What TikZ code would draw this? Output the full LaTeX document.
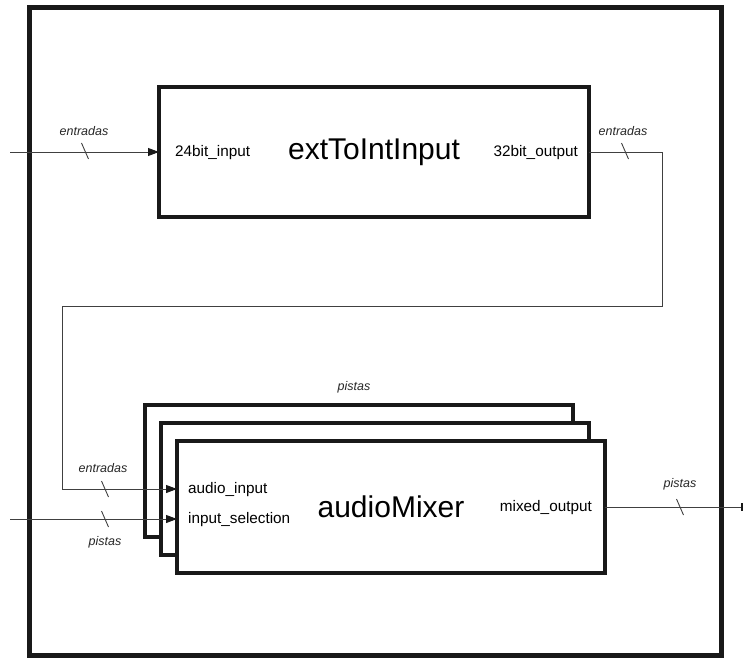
\documentclass[tikz,border=0pt]{standalone}
\usepackage{fontspec}
\setmainfont{Liberation Sans}
\usetikzlibrary{arrows.meta}
\begin{document}
\begin{tikzpicture}[x=1pt,y=-1pt,
  frame/.style={draw=black!90, line width=5pt},
  block/.style={draw=black!90, line width=4pt, fill=white, anchor=north west,
    inner sep=0pt, outer sep=0pt, font=\fontsize{30}{36}\selectfont},
  port/.style={font=\fontsize{15.3}{18}\selectfont, inner sep=0pt},
  bus/.style={draw=black!75, line width=0.9pt},
  busarrow/.style={bus, -{Triangle[length=11pt,width=8pt,color=black!90]}},
  buslabel/.style={font=\fontsize{12.5}{15}\selectfont\itshape, text=black!85, inner sep=0pt},
  slashmark/.pic={\draw[bus] (-3.5,-8) -- (3.5,8);}
]
\useasboundingbox (0,0) rectangle (745,658);

% enclosing entity
\draw[frame] (29.5,7.5) rectangle (721.5,655.5);

% converter block
\node[block, minimum width=430pt, minimum height=130pt] (ext) at (159,87) {extToIntInput};
\node[port, anchor=west] (extInLbl) at (175,153) {24bit\_input};
\node[port, anchor=east] (extOutLbl) at (578,153) {32bit\_output};

% stacked mixer instances
\node[block, minimum width=428pt, minimum height=132pt] (mixC) at (145,405) {};
\node[block, minimum width=428pt, minimum height=132pt] (mixB) at (161,423) {};
\node[block, minimum width=428pt, minimum height=132pt] (mixA) at (177,441) {audioMixer};
\node[port, anchor=west] (audioLbl) at (188,490) {audio\_input};
\node[port, anchor=west] (selLbl) at (188,520) {input\_selection};
\node[port, anchor=east] (mixOutLbl) at (592,508) {mixed\_output};
\node[buslabel] (stackLbl) at (354,387) {pistas};

% connector end points and bends
\coordinate (extIn) at (10,152);
\coordinate (selIn) at (10,519);
\coordinate (mixOut) at (743,507);
\coordinate (turnR) at (662,306);
\coordinate (turnL) at (62,306);
\coordinate (audioIn) at ([yshift=18pt]mixA.west);
\coordinate (selPort) at ([yshift=-12pt]mixA.west);

% buses
\draw[busarrow] (extIn) -- (ext.west);
\draw[busarrow] (ext.east) -| (turnR) -- (turnL) |- (audioIn);
\draw[busarrow] (selIn) -- (selPort);
\draw[bus, -{Bar[width=8pt,line width=2pt,color=black!90]}] (mixA.east) -- (mixOut);

% bus width marks and names
\pic at (85,151) {slashmark};
\node[buslabel] at (84,131) {entradas};
\pic at (625,151) {slashmark};
\node[buslabel] at (623,131) {entradas};
\pic at (105,489) {slashmark};
\node[buslabel] at (103,468) {entradas};
\pic at (105,519) {slashmark};
\node[buslabel] at (105,542) {pistas};
\pic at (680,507) {slashmark};
\node[buslabel] at (680,484) {pistas};
\end{tikzpicture}
\end{document}
